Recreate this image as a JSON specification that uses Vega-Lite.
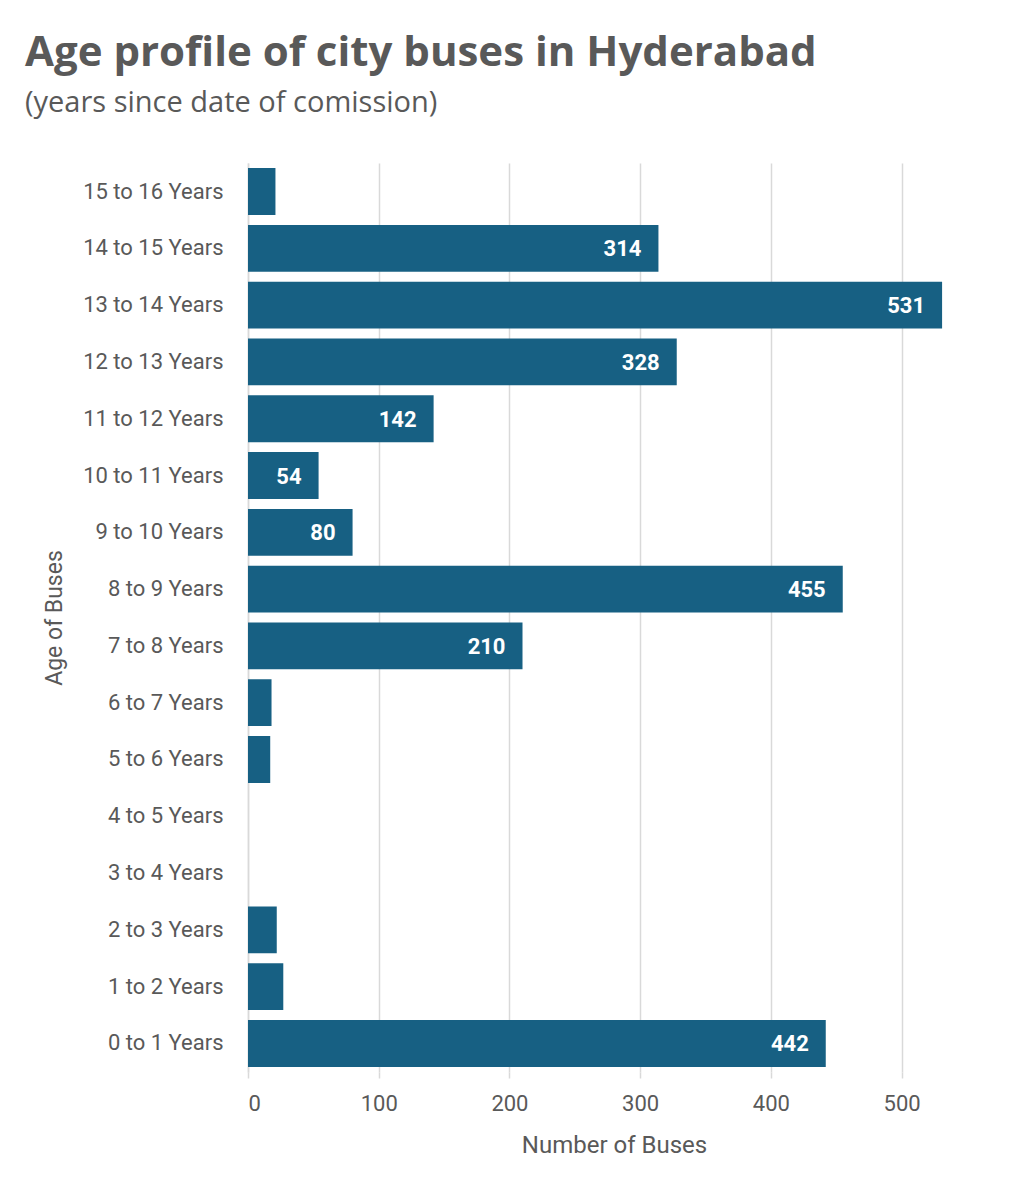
{
  "$schema": "https://vega.github.io/schema/vega-lite/v6.json",
  "width": 732,
  "height": 909,
  "autosize": "none",
  "padding": {"left": 248, "top": 163, "right": 40, "bottom": 128},
  "background": "#ffffff",
  "title": {
    "text": "Age profile of city buses in Hyderabad",
    "subtitle": "(years since date of comission)",
    "anchor": "start",
    "frame": "group",
    "dx": -223,
    "offset": 44,
    "font": "Open Sans",
    "fontSize": 42,
    "fontWeight": "bold",
    "color": "#595959",
    "subtitleFont": "Open Sans",
    "subtitleFontSize": 29,
    "subtitleColor": "#595959",
    "subtitlePadding": 14
  },
  "data": {
    "values": [
      {"age": "15 to 16 Years", "buses": 21},
      {"age": "14 to 15 Years", "buses": 314},
      {"age": "13 to 14 Years", "buses": 531},
      {"age": "12 to 13 Years", "buses": 328},
      {"age": "11 to 12 Years", "buses": 142},
      {"age": "10 to 11 Years", "buses": 54},
      {"age": "9 to 10 Years", "buses": 80},
      {"age": "8 to 9 Years", "buses": 455},
      {"age": "7 to 8 Years", "buses": 210},
      {"age": "6 to 7 Years", "buses": 18},
      {"age": "5 to 6 Years", "buses": 17},
      {"age": "4 to 5 Years", "buses": 0},
      {"age": "3 to 4 Years", "buses": 0},
      {"age": "2 to 3 Years", "buses": 22},
      {"age": "1 to 2 Years", "buses": 27},
      {"age": "0 to 1 Years", "buses": 442}
    ]
  },
  "encoding": {
    "y": {
      "field": "age",
      "type": "nominal",
      "sort": null,
      "scale": {"paddingInner": 0.175, "paddingOuter": 0.09},
      "axis": {
        "title": "Age of Buses",
        "ticks": false,
        "domainColor": "#d9d9d9",
        "domainWidth": 1.5,
        "labelPadding": 25,
        "labelFont": "Roboto",
        "labelFontSize": 22,
        "labelColor": "#595959",
        "titleFont": "Roboto",
        "titleFontSize": 23,
        "titleFontWeight": "normal",
        "titleColor": "#595959",
        "titlePadding": 16
      }
    },
    "x": {
      "field": "buses",
      "type": "quantitative",
      "scale": {"domain": [0, 560], "nice": false},
      "axis": {
        "title": "Number of Buses",
        "values": [0, 100, 200, 300, 400, 500],
        "grid": true,
        "gridColor": "#d9d9d9",
        "gridWidth": 1.5,
        "domain": false,
        "tickColor": "#d9d9d9",
        "tickWidth": 1.5,
        "tickSize": 6,
        "labelPadding": 15,
        "labelFont": "Roboto",
        "labelFontSize": 22,
        "labelColor": "#595959",
        "titleFont": "Roboto",
        "titleFontSize": 24,
        "titleFontWeight": "normal",
        "titleColor": "#595959",
        "titlePadding": 19
      }
    }
  },
  "layer": [
    {
      "mark": {"type": "bar", "color": "#176083"}
    },
    {
      "transform": [{"filter": "datum.buses >= 50"}],
      "mark": {
        "type": "text",
        "align": "right",
        "baseline": "middle",
        "dx": -17,
        "dy": 1,
        "font": "Roboto",
        "fontSize": 22,
        "fontWeight": "bold",
        "color": "#ffffff"
      },
      "encoding": {"text": {"field": "buses", "type": "quantitative"}}
    }
  ],
  "config": {"view": {"stroke": null}}
}
